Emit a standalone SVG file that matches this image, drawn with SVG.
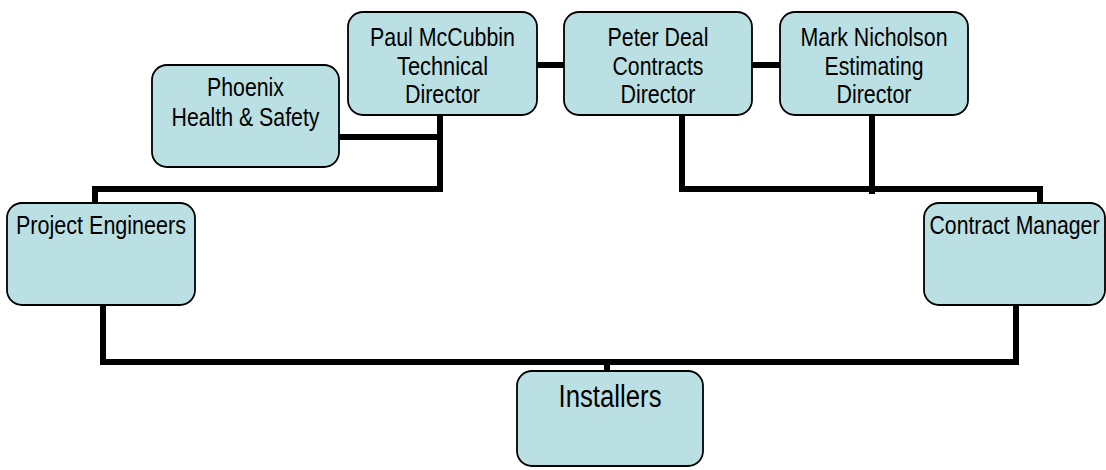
<svg xmlns="http://www.w3.org/2000/svg" width="1106" height="470" viewBox="0 0 1106 470">
<style>
.box{fill:#bbe0e3;stroke:#000;stroke-width:1.8}
.t{font-family:"Liberation Sans Narrow","Liberation Sans",Arial,sans-serif;font-size:26px;fill:#000;text-anchor:middle}
.big{font-size:31px}
.c{fill:none;stroke:#000;stroke-width:6;stroke-linejoin:miter;stroke-linecap:butt}
</style>
<rect width="1106" height="470" fill="#fff"/>
<g id="connectors">
<path class="c" d="M537 65H564"/>
<path class="c" d="M752 65H780"/>
<path class="c" d="M339 137H440"/>
<path class="c" d="M440 115V189H95V203"/>
<path class="c" d="M682 115V189H1040V203"/>
<path class="c" d="M872 115V194"/>
<path class="c" d="M103 305V362H1016V305"/>
<path class="c" d="M607 362V371"/>
</g>
<g id="paul">
<rect class="box" x="348" y="12" width="189" height="103" rx="15"/>
<text class="t" x="442.5" y="46" textLength="145" lengthAdjust="spacingAndGlyphs">Paul McCubbin</text>
<text class="t" x="442.5" y="75" textLength="91" lengthAdjust="spacingAndGlyphs">Technical</text>
<text class="t" x="442.5" y="103" textLength="75" lengthAdjust="spacingAndGlyphs">Director</text>
</g>
<g id="peter">
<rect class="box" x="564" y="12" width="188" height="103" rx="15"/>
<text class="t" x="658" y="46" textLength="101" lengthAdjust="spacingAndGlyphs">Peter Deal</text>
<text class="t" x="658" y="75" textLength="91" lengthAdjust="spacingAndGlyphs">Contracts</text>
<text class="t" x="658" y="103" textLength="75" lengthAdjust="spacingAndGlyphs">Director</text>
</g>
<g id="mark">
<rect class="box" x="780" y="12" width="188" height="103" rx="15"/>
<text class="t" x="874" y="46" textLength="147" lengthAdjust="spacingAndGlyphs">Mark Nicholson</text>
<text class="t" x="874" y="75" textLength="99" lengthAdjust="spacingAndGlyphs">Estimating</text>
<text class="t" x="874" y="103" textLength="75" lengthAdjust="spacingAndGlyphs">Director</text>
</g>
<g id="phoenix">
<rect class="box" x="152" y="65" width="187" height="102" rx="15"/>
<text class="t" x="245.5" y="96" textLength="77" lengthAdjust="spacingAndGlyphs">Phoenix</text>
<text class="t" x="245.5" y="126" textLength="148" lengthAdjust="spacingAndGlyphs">Health &amp; Safety</text>
</g>
<g id="project-engineers">
<rect class="box" x="7" y="203" width="188" height="102" rx="15"/>
<text class="t" x="101" y="234" textLength="170" lengthAdjust="spacingAndGlyphs">Project Engineers</text>
</g>
<g id="contract-manager">
<rect class="box" x="924" y="203" width="181" height="102" rx="15"/>
<text class="t" x="1014.5" y="234" textLength="170" lengthAdjust="spacingAndGlyphs">Contract Manager</text>
</g>
<g id="installers">
<rect class="box" x="517" y="371" width="186" height="95" rx="15"/>
<text class="t big" x="610" y="407" textLength="103" lengthAdjust="spacingAndGlyphs">Installers</text>
</g>
</svg>
